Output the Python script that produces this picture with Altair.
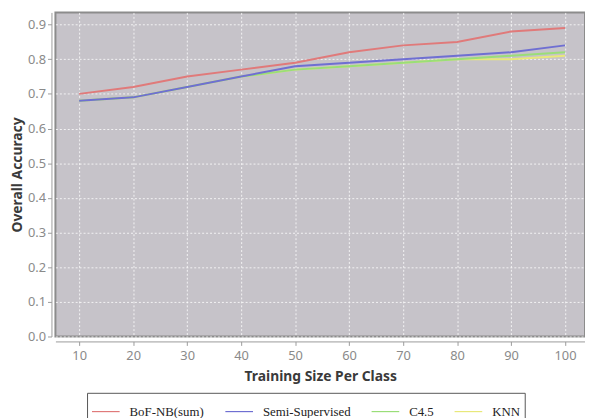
import altair as alt
import pandas as pd

sizes = [10, 20, 30, 40, 50, 60, 70, 80, 90, 100]
bof_nb = [0.70, 0.72, 0.75, 0.77, 0.79, 0.82, 0.84, 0.85, 0.88, 0.89]
semi = [0.68, 0.69, 0.72, 0.75, 0.78, 0.79, 0.80, 0.81, 0.82, 0.84]
c45 = [0.68, 0.69, 0.72, 0.75, 0.77, 0.78, 0.79, 0.80, 0.81, 0.82]
knn = [0.68, 0.69, 0.72, 0.75, 0.77, 0.78, 0.79, 0.80, 0.80, 0.81]

names = ["BoF-NB(sum)", "Semi-Supervised", "C4.5", "KNN"]
colors = ["#e07a7a", "#6f6fd2", "#9ade78", "#e8e87a"]
series = [bof_nb, semi, c45, knn]

rows = []
for n, vals in zip(names, series):
    for s, v in zip(sizes, vals):
        rows.append({"size": s, "acc": v, "method": n})
df = pd.DataFrame(rows)

x = alt.X("size:Q", title="Training Size Per Class",
          scale=alt.Scale(domain=[5.6, 103.7], nice=False, zero=False),
          axis=alt.Axis(values=sizes, offset=5, grid=True))
y = alt.Y("acc:Q", title="Overall Accuracy",
          scale=alt.Scale(domain=[0, 0.935], nice=False),
          axis=alt.Axis(values=[i / 10 for i in range(10)], format=".1f", offset=4, grid=True))
color = alt.Color("method:N", title=None,
                  scale=alt.Scale(domain=names, range=colors),
                  legend=alt.Legend(orient="none", legendX=32, legendY=385,
                                    direction="horizontal", symbolType="stroke",
                                    symbolSize=784, symbolStrokeWidth=1.2,
                                    labelFont="Liberation Serif", labelFontSize=13,
                                    labelColor="#222", labelOffset=9, columnPadding=18,
                                    padding=4, strokeColor="#555",
                                    fillColor="#ffffff"))

layers = []
for n in ["KNN", "C4.5", "Semi-Supervised", "BoF-NB(sum)"]:
    layers.append(
        alt.Chart(df).transform_filter(alt.datum.method == n)
        .mark_line(strokeWidth=2, clip=True)
        .encode(x=x, y=y, color=color)
    )

chart = alt.layer(*layers).properties(
    width=536, height=328,
    autosize=alt.AutoSizeParams(type="none"),
    padding={"left": 48, "top": 2, "right": 0, "bottom": 80},
    background="#ffffff",
).configure_view(
    fill="#c6c3c9", stroke="#8c8c8c", strokeWidth=2
).configure_axis(
    gridColor="#ffffff", gridDash=[2, 2], gridOpacity=0.8,
    domainColor="#9a9a9a", tickColor="#9a9a9a", tickSize=4,
    labelColor="#8a8a8a", labelFont="Noto Sans", labelFontSize=13,
    titleColor="#3a3a3a", titleFont="Noto Sans", titleFontSize=14, titleFontWeight="bold",
).configure_axisX(
    labelPadding=4, titlePadding=8
).configure_axisY(
    labelPadding=2, titlePadding=3
)

chart.save("out.html", embed_options={"renderer": "svg", "actions": False})
